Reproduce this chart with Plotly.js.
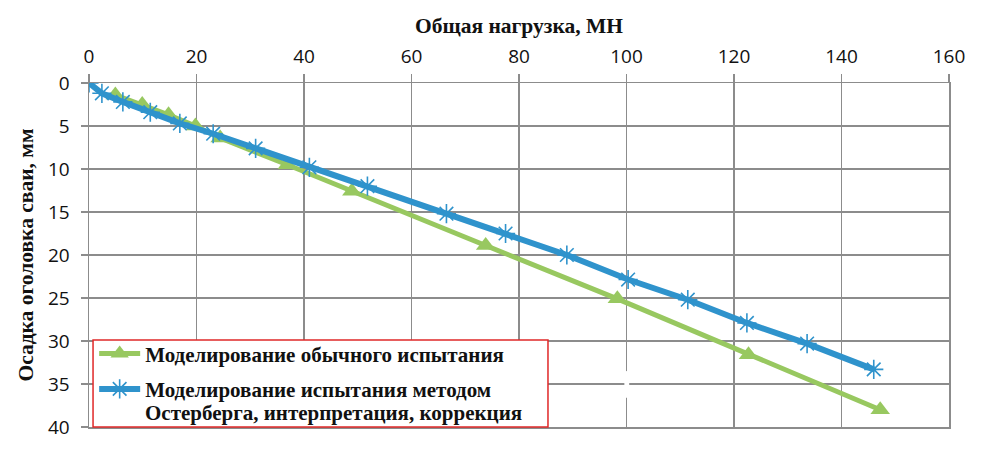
<!DOCTYPE html>
<html>
<head>
<meta charset="utf-8">
<script src="https://cdn.plot.ly/plotly-3.0.1.min.js"></script>
<style>
  html, body { margin: 0; padding: 0; background: #ffffff; }
  #chart { width: 1000px; height: 462px; }
</style>
</head>
<body>
<div id="chart"></div>
<script>
// Load–settlement curves: total load (MN) vs pile head settlement (mm)
const seriesNames = [
  'Моделирование обычного испытания',
  'Моделирование испытания методом'
];
// continuation of the second series name, set on its own line under the legend entry
const seriesNameTail = 'Остерберга, интерпретация, коррекция';

// Conventional static load test simulation
const conventionalLoad = [4.9, 9.9, 14.8, 19.8, 24.4, 36.9, 48.9, 73.8, 98.3, 122.7, 147.2];
const conventionalSettlement = [1.4, 2.5, 3.7, 5.0, 6.4, 9.5, 12.6, 18.9, 25.1, 31.6, 38.0];

// Osterberg-cell test simulation, interpreted and corrected
const osterbergLoad = [0, 2.4, 6.3, 11.4, 16.9, 23.1, 31.0, 41.0, 51.8, 66.5, 77.5, 88.9, 100.3, 111.4, 122.4, 133.6, 146.0];
const osterbergSettlement = [0, 1.2, 2.2, 3.4, 4.7, 5.9, 7.6, 9.8, 12.0, 15.2, 17.5, 20.0, 22.85, 25.2, 27.9, 30.3, 33.3];

const xTitle = 'Общая нагрузка, МН';
const yTitle = 'Осадка оголовка сваи, мм';

const gridColor = '#8c8c8c';
const serif = '"Liberation Serif", "Times New Roman", serif';
const legendFont = { family: serif, size: 21, color: '#111111', weight: 'bold' };
const tickFont = { family: '"Open Sans", "Liberation Sans", sans-serif', size: 19, color: '#111111' };

const traces = [
  {
    x: conventionalLoad,
    y: conventionalSettlement,
    name: seriesNames[0],
    legendgroup: 'conventional',
    mode: 'lines+markers',
    line: { color: '#98c860', width: 5 },
    marker: { symbol: 'triangle-up', size: 17, color: '#98c860' }
  },
  {
    x: osterbergLoad,
    y: osterbergSettlement,
    name: seriesNames[1],
    legendgroup: 'osterberg',
    mode: 'lines+markers',
    line: { color: '#2f93cc', width: 6 },
    marker: { symbol: 'asterisk-open', size: 16, color: '#2f93cc', line: { color: '#2f93cc', width: 1.6 } }
  }
];

const layout = {
  width: 1000,
  height: 462,
  margin: { l: 89, r: 51, t: 83, b: 35 },
  paper_bgcolor: '#ffffff',
  plot_bgcolor: '#ffffff',
  showlegend: true,
  xaxis: {
    side: 'top',
    range: [0, 160],
    dtick: 20,
    tick0: 0,
    showgrid: true,
    gridcolor: gridColor,
    gridwidth: 1.5,
    zeroline: false,
    showline: true,
    mirror: true,
    linecolor: gridColor,
    linewidth: 1.5,
    ticks: 'outside',
    ticklen: 8,
    tickwidth: 1.5,
    tickcolor: gridColor,
    tickfont: tickFont,
    ticklabelstandoff: 3,
    title: { text: xTitle, font: { family: serif, size: 21.5, color: '#111111', weight: 'bold' }, standoff: 3 }
  },
  yaxis: {
    range: [40, 0],
    dtick: 5,
    tick0: 0,
    showgrid: true,
    gridcolor: gridColor,
    gridwidth: 1.5,
    zeroline: false,
    showline: true,
    mirror: true,
    linecolor: gridColor,
    linewidth: 1.5,
    ticks: 'outside',
    ticklen: 7,
    tickwidth: 1.5,
    tickcolor: gridColor,
    tickfont: tickFont,
    ticklabelstandoff: 7,
    title: { text: yTitle, font: { family: serif, size: 21.5, color: '#111111', weight: 'bold' }, standoff: 8 }
  },
  legend: {
    x: 0.006,
    y: 0.272,
    xanchor: 'left',
    yanchor: 'top',
    bgcolor: 'rgba(0,0,0,0)',
    borderwidth: 0,
    traceorder: 'grouped',
    tracegroupgap: 5,
    itemwidth: 41,
    font: legendFont
  },
  annotations: [
    {
      text: seriesNameTail,
      xref: 'paper', yref: 'paper',
      x: 0.0628, y: 0.04,
      xanchor: 'left', yanchor: 'middle',
      showarrow: false,
      font: legendFont
    }
  ],
  shapes: [
    // legend frame
    { type: 'rect', xref: 'paper', yref: 'paper', x0: 0.0047, x1: 0.5337, y0: 0.0, y1: 0.2529,
      fillcolor: '#ffffff', line: { color: '#e02828', width: 1.5 }, layer: 'above' },
    // short break in the gridline at 100 MN
    { type: 'rect', xref: 'x', yref: 'y', x0: 99.6, x1: 100.5, y0: 33.5, y1: 36.6,
      fillcolor: '#ffffff', line: { width: 0 }, layer: 'above' }
  ]
};

Plotly.newPlot('chart', traces, layout, { displayModeBar: false, staticPlot: true });
</script>
</body>
</html>
